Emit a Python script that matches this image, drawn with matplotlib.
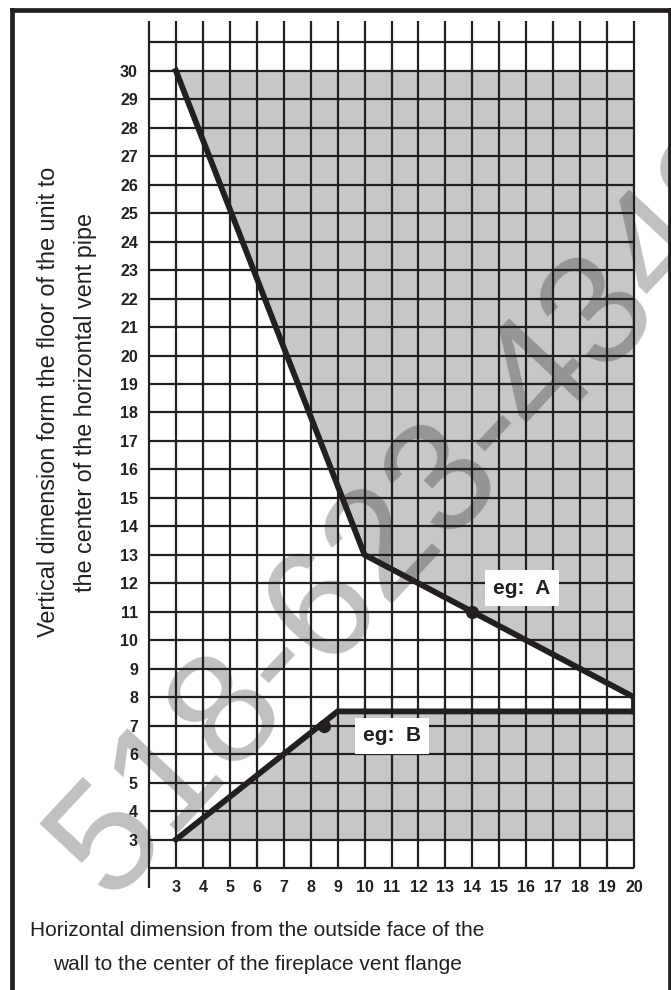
import numpy as np
import matplotlib
matplotlib.use('Agg')
import matplotlib.pyplot as plt

# chart data
x_ticks = list(range(3, 21))
y_ticks = list(range(3, 31))
grid_x = list(range(2, 21))
grid_y = list(range(2, 32))

# boundary line A (upper limit) and line B (lower limit)
line_a_x = [3, 10, 20, 20]
line_a_y = [30, 13, 8, 7.5]
line_b_x = [20, 9, 3]
line_b_y = [7.5, 7.5, 3]

# shaded area extent
shade_x = [3, 20]
shade_y = [3, 30]

# example points
ex_a = (14, 11)
ex_b = (8.5, 7)

ink = '#231f20'
gray = '#c6c7c9'

plt.rcParams['font.family'] = ['Liberation Sans', 'DejaVu Sans']

fig = plt.figure(figsize=(6.71, 9.9), dpi=100)
ax = fig.add_axes([149 / 671, 1 - 868 / 990, 485 / 671, 847 / 990])
ax.set_xlim(2, 20)
ax.set_ylim(2, 31.75)

# shading: gray everywhere except the allowed wedge between A and B
ax.fill_between(shade_x, shade_y[0], shade_y[1], color=gray, lw=0, zorder=1)
ax.fill(line_a_x + line_b_x, line_a_y + line_b_y, color='white', lw=0, zorder=1.1)

# watermark (under the grid)
ax.text(109 / 671, 1 - 901 / 990, '518-623-4343', transform=fig.transFigure,
        rotation=47, rotation_mode='anchor', ha='left', va='baseline',
        fontsize=114, color='black', alpha=0.25, zorder=2, clip_on=False)

# grid
ax.hlines(grid_y, 2, 20, color=ink, lw=1.6, zorder=3, clip_on=False)
ax.vlines(grid_x, 2, 31.75, color=ink, lw=1.6, zorder=3, clip_on=False)
ax.vlines([2], 1.3, 2, color=ink, lw=1.6, zorder=3, clip_on=False)

# boundary lines
ax.plot(line_a_x, line_a_y, color=ink, lw=4.2, solid_joinstyle='miter', zorder=4)
ax.plot(line_b_x, line_b_y, color=ink, lw=4.2, solid_joinstyle='miter', zorder=4)
ax.plot(*ex_a, 'o', color=ink, ms=8.5, zorder=5)
ax.plot(*ex_b, 'o', color=ink, ms=8.5, zorder=5)

ax.text(15.85, 11.83, 'eg:  A', fontsize=15, fontweight='bold', color=ink,
        ha='center', va='center', zorder=6,
        bbox=dict(boxstyle='square,pad=0.4', fc='white', ec='none'))
ax.text(11.02, 6.64, 'eg:  B', fontsize=15, fontweight='bold', color=ink,
        ha='center', va='center', zorder=6,
        bbox=dict(boxstyle='square,pad=0.4', fc='white', ec='none'))

# ticks
for s in ax.spines.values():
    s.set_visible(False)
ax.set_xticks(x_ticks)
ax.set_yticks(y_ticks)
ax.tick_params(length=0, labelsize=11.5, labelcolor=ink)
ax.tick_params(axis='x', pad=9)
ax.tick_params(axis='y', pad=8)
for lab in ax.get_xticklabels() + ax.get_yticklabels():
    lab.set_fontweight('bold')

# axis titles
fig.text(67 / 671, 1 - 402 / 990,
         'Vertical dimension form the floor of the unit to\nthe center of the horizontal vent pipe',
         rotation=90, ha='center', va='center', multialignment='center',
         fontsize=16.8, color=ink, linespacing=1.75)
fig.text(257 / 671, 1 - 947 / 990,
         'Horizontal dimension from the outside face of the\nwall to the center of the fireplace vent flange',
         ha='center', va='center', multialignment='center',
         fontsize=15, color=ink, linespacing=2.0)

# outer frame
fig.add_artist(plt.Line2D([12 / 671, 12 / 671], [0, 1 - 9.5 / 990], transform=fig.transFigure, color=ink, lw=3.4))
fig.add_artist(plt.Line2D([12 / 671, 669.5 / 671], [1 - 9.5 / 990, 1 - 9.5 / 990], transform=fig.transFigure, color=ink, lw=3.4))
fig.add_artist(plt.Line2D([669.5 / 671, 669.5 / 671], [0, 1 - 9.5 / 990], transform=fig.transFigure, color=ink, lw=3.4))

fig.savefig('out.png', dpi=100)
